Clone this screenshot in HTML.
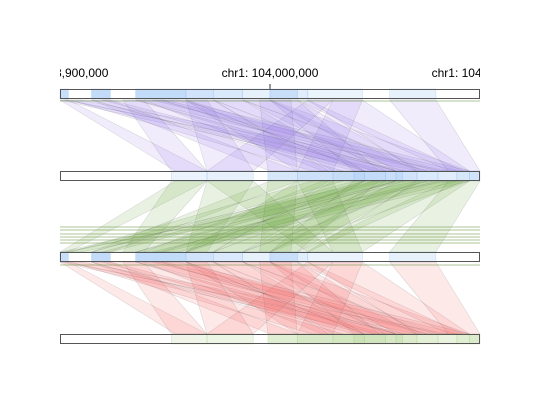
<!DOCTYPE html>
<html><head><meta charset="utf-8"><style>
html,body{margin:0;padding:0;background:#fff;}
svg{display:block;font-family:"Liberation Sans",Arial,sans-serif;}
</style></head><body>
<svg id="chart" width="540" height="405" viewBox="0 0 540 405">
<defs><clipPath id="clip"><rect x="60" y="0" width="420" height="405"/></clipPath></defs>
<g id="axis"></g>
<g id="links" clip-path="url(#clip)"></g>
<g id="tracks"></g>
</svg>
<script>
// data in kb offset from chr1:103,900,000
const tickLabels = ["chr1: 103,900,000","chr1: 104,000,000","chr1: 104,100,000"];
const tickKb = [0,100,200];
const topBlocks = [[0,4],[15,24],[36,60],[60,73],[73,87],[87,100],[100,113],[113,118],[118,144],[157,179]];
const topShade = [0.8,0.9,0.9,0.7,0.55,0.35,0.8,0.45,0.3,0.35];
const botBlocks = [[53,70],[70,92],[99,113],[113,130],[130,140],[140,145],[145,155],[155,160],[160,163],[163,170],[170,180],[180,189],[189,195],[195,200]];
const botShade = [0.3,0.35,0.6,0.75,0.85,1,0.9,0.8,0.9,0.7,0.55,0.45,0.6,0.7];
const links = [[0,4,55,70],[0,4,150,165],[2,10,170,185],[15,24,140,155],[15,24,100,113],[36,48,150,160],[36,50,175,190],[40,60,125,145],[48,60,160,175],[60,73,145,160],[60,73,113,128],[73,87,163,178],[73,87,130,145],[87,100,155,170],[87,100,180,195],[100,113,160,172],[100,113,140,152],[113,118,185,192],[118,144,170,195],[118,130,70,92],[130,144,113,130],[157,179,185,200],[30,40,53,70],[60,70,70,92],[95,110,99,113],[5,15,120,135],[20,36,145,160],[44,56,180,195]];
const flatLines = [227,230,234,237,240,243,265,101];

const NS="http://www.w3.org/2000/svg";
const x = kb => 60 + kb*2.1;
function mk(tag, attrs, parent){const e=document.createElementNS(NS,tag);for(const k in attrs)e.setAttribute(k,attrs[k]);parent.appendChild(e);return e;}
const axis=document.getElementById('axis'), lg=document.getElementById('links'), tg=document.getElementById('tracks');

const tc = mk('g',{'clip-path':'url(#clip)'},axis);
tickKb.forEach((k,i)=>{
  const t=mk('text',{x:x(k),y:77,'text-anchor':'middle','font-size':12,fill:'#000'},tc);
  t.textContent=tickLabels[i];
  
  
  if(k>0 && k<200){
    const l=mk('line',{x1:x(k),x2:x(k),y1:84,y2:89,stroke:'#333','stroke-width':1},axis);
    
    
  }
});

const panels=[{a:100,b:171,fill:'rgba(150,120,235,0.14)'},{a:252,b:181,fill:'rgba(110,170,60,0.15)'},{a:262,b:334,fill:'rgba(245,100,100,0.14)'}];
panels.forEach(p=>{
  links.forEach(L=>{
    const pts=`${x(L[0])},${p.a} ${x(L[1])},${p.a} ${x(L[3])},${p.b} ${x(L[2])},${p.b}`;
    const pg=mk('polygon',{points:pts,fill:p.fill,stroke:'rgba(90,90,90,0.2)','stroke-width':0.6},lg);
    
    
  });
});
flatLines.forEach(y=>{
  const l=mk('line',{x1:60,x2:480,y1:y,y2:y,stroke:'rgba(110,150,70,0.45)','stroke-width':1.2},lg);
  
  
});

function track(y, blocks, shade, color, name){
  const g=mk('g',{},tg);
  
  
  mk('rect',{x:60,y:y,width:420,height:10,fill:'#fff'},g);
  blocks.forEach((b,i)=>{
    const r=mk('rect',{x:x(b[0]),y:y,width:x(b[1])-x(b[0]),height:10,fill:color,'fill-opacity':shade[i]*0.6,stroke:color,'stroke-opacity':0.5,'stroke-width':0.5},g);
    
    
  });
  mk('rect',{x:60.5,y:y+0.5,width:419,height:9,fill:'none',stroke:'#555','stroke-width':1},g);
}
track(89,topBlocks,topShade,'#8fbcf2','track-1');
track(171,botBlocks,botShade,'#8fbcf2','track-2');
track(252,topBlocks,topShade,'#8fbcf2','track-3');
track(334,botBlocks,botShade,'#a9cf86','track-4');
</script>
</body></html>
